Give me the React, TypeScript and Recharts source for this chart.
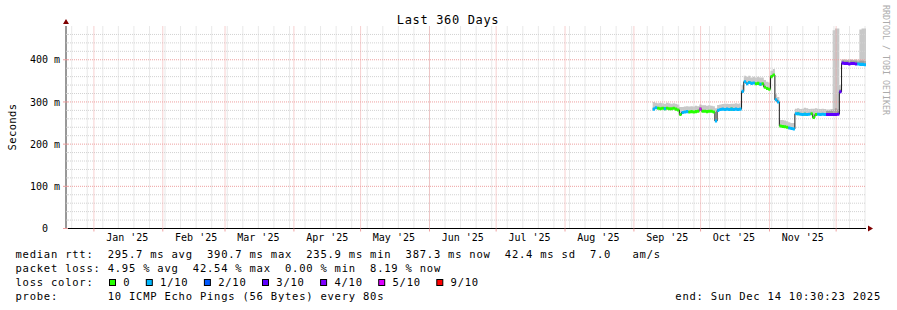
import React from 'react';
import { ComposedChart, Area, Line, XAxis, YAxis, ReferenceLine } from 'recharts';

const MONO = "'DejaVu Sans Mono', monospace";

// ---- time axis ----
const END_TIME = Date.UTC(2025, 11, 14, 10, 30, 23);
const SPAN_DAYS = 360;
const DAY_MS = 86400000;
const START_TIME = END_TIME - SPAN_DAYS * DAY_MS;
const dayOf = (t: number) => (t - START_TIME) / DAY_MS;

const MONTH_NAMES = ['Jan', 'Feb', 'Mar', 'Apr', 'May', 'Jun', 'Jul', 'Aug', 'Sep', 'Oct', 'Nov', 'Dec'];
const MONTH_STARTS = MONTH_NAMES.map((_, m) => dayOf(Date.UTC(2025, m, 1)));
const MONTH_LABELS = MONTH_NAMES.slice(0, 11).map((n) => `${n} '25`);
const MONTH_MIDS = MONTH_NAMES.slice(0, 11).map((_, m) => dayOf(Date.UTC(2025, m, 16)));
const WEEK_LINES: number[] = [];
for (let t = Date.UTC(2024, 11, 22); t < END_TIME; t += 7 * DAY_MS) WEEK_LINES.push(dayOf(t));
const X_TICKS = [...MONTH_STARTS, ...MONTH_MIDS];

// ---- value axis (ms) ----
const Y_MAX = 480;
const Y_TICKS: number[] = [];
for (let v = 0; v < Y_MAX; v += 20) Y_TICKS.push(v);
const Y_MAJOR = [100, 200, 300, 400];
const Y_MINOR = Y_TICKS.filter((v) => v > 0 && v % 100 !== 0);

// ---- series (one value per day, starting at day 264 of the 360-day window) ----
const DAY_START = 264;
const MEDIAN = [
  283, 286, 285, 284, 285, 284, 285, 284, 284, 285,
  283, 281, 270, 275, 276, 277, 276, 277, 276, 277,
  278, 283, 278, 278, 277, 278, 278, 276, 255, 280,
  282, 283, 282, 283, 282, 283, 282, 283, 282, 283,
  325, 348, 343, 346, 344, 345, 343, 344, 342, 343,
  335, 332, 330, 360, 364, 305, 300, 243, 242, 241,
  240, 238, 237, 236, 272, 272, 271, 270, 271, 270,
  271, 272, 263, 270, 271, 270, 271, 270, 270, 270,
  270, 270, 270, 271, 324, 392, 391, 391, 390, 391,
  391, 390, 390, 389, 389, 388,
];
const SMOKE_HI = [
  300, 298, 297, 298, 297, 296, 298, 297, 296, 297,
  296, 294, 288, 288, 289, 290, 289, 290, 289, 291,
  290, 294, 292, 292, 291, 292, 291, 290, 285, 293,
  294, 295, 296, 296, 295, 296, 296, 297, 296, 297,
  340, 362, 360, 362, 358, 360, 358, 360, 358, 358,
  352, 348, 346, 374, 378, 318, 312, 257, 257, 256,
  254, 252, 250, 250, 284, 285, 283, 284, 286, 285,
  283, 284, 284, 285, 284, 283, 284, 283, 282, 282,
  283, 470, 474, 474, 340, 401, 401, 400, 401, 401,
  400, 401, 400, 472, 474, 474,
];
// index into LOSS_LABELS / LOSS_COLORS
const LOSS = [
  1, 1, 0, 0, 0, 1, 0, 0, 0, 0,
  0, 0, 0, 1, 1, 1, 0, 0, 0, 0,
  0, 5, 0, 0, 0, 0, 0, 0, 1, 1,
  1, 1, 1, 1, 1, 0, 1, 1, 1, 1,
  1, 1, 1, 0, 1, 1, 0, 0, 1, 0,
  0, 0, 0, 0, 0, 1, 1, 0, 0, 0,
  0, 1, 1, 1, 1, 0, 1, 1, 0, 1,
  1, 0, 0, 0, 1, 1, 1, 1, 3, 3,
  3, 3, 3, 3, 3, 3, 3, 3, 3, 3,
  3, 3, 1, 1, 1, 1,
];
const DARK_START = 342;
const DARK_HI = [279, 279, 280, 282, 285, 282, 330, 399, 398, 398, 398, 399, 398, 398, 396, 398, 398, 397];

const LOSS_LABELS = ['0', '1/10', '2/10', '3/10', '4/10', '5/10', '9/10'];
const LOSS_COLORS = ['#26ff00', '#00b8ff', '#0059ff', '#5e00ff', '#7e00ff', '#dd00ff', '#ff0000'];

const LEGEND_ROWS = [
  'median rtt:  295.7 ms avg  390.7 ms max  235.9 ms min  387.3 ms now  42.4 ms sd  7.0   am/s',
  'packet loss: 4.95 % avg  42.54 % max  0.00 % min  8.19 % now',
  'loss color:',
  'probe:       10 ICMP Echo Pings (56 Bytes) every 80s',
];
const END_TEXT = 'end: Sun Dec 14 10:30:23 2025';
const TITLE = 'Last 360 Days';
const Y_LABEL = 'Seconds';
const WATERMARK = 'RRDTOOL / TOBI OETIKER';

// ---- style ----
const W = 897;
const H = 310;
const PLOT_MARGIN = { top: 26, right: 31, bottom: 81.5, left: 66 };
const BAND = 3.6;
const MINOR_GRID = '#d2d2d2';
const MAJOR_GRID = '#eea0a0';
const ARROW = '#7f0000';

// ---- chart rows ----
type Row = Record<string, any>;
const buildRow = (i: number, d: number, endRow: boolean): Row => {
  const m = MEDIAN[i];
  const j = DAY_START + i - DARK_START;
  const row: Row = {
    d,
    med: m,
    smoke: [m, SMOKE_HI[i]],
    dark: j >= 0 ? [m, DARK_HI[j]] : null,
  };
  LOSS_COLORS.forEach((_, k) => {
    const on = endRow ? LOSS[i] === k : LOSS[i] === k || (i > 0 && LOSS[i - 1] === k);
    row['b' + k] = on ? [m - BAND, m + BAND] : null;
  });
  return row;
};
const rows: Row[] = MEDIAN.map((_, i) => buildRow(i, DAY_START + i, false));
rows.push(buildRow(MEDIAN.length - 1, SPAN_DAYS, true));

// legend swatch layout
const LEGEND_ITEMS: { box: number; text: number; label: string; color: string }[] = [];
{
  let bx = 109;
  LOSS_LABELS.forEach((label, k) => {
    LEGEND_ITEMS.push({ box: bx, text: bx + 14.3, label, color: LOSS_COLORS[k] });
    bx = bx + 14.3 + label.length * 7.1 + 15.4;
  });
}

const renderXTick = (p: any) => {
  const v = p.payload.value;
  const mi = MONTH_MIDS.indexOf(v);
  if (mi >= 0) {
    return (
      <text x={p.x} y={p.y + 5} dy="0.71em" textAnchor="middle" fontFamily={MONO} fontSize={10} fill="#000">
        {MONTH_LABELS[mi]}
      </text>
    );
  }
  return <line x1={p.x} x2={p.x} y1={p.y} y2={p.y + 3} stroke={MAJOR_GRID} />;
};

const renderYTick = (p: any) => {
  const v = p.payload.value;
  const major = v % 100 === 0;
  return (
    <g>
      <line x1={major ? p.x - 3 : p.x} x2={p.x + 2} y1={p.y} y2={p.y} stroke={major ? MAJOR_GRID : MINOR_GRID} />
      {major && (
        <text
          x={v === 0 ? p.x - 18 : p.x - 6}
          y={p.y}
          dy="0.36em"
          textAnchor="end"
          fontFamily={MONO}
          fontSize={10}
          fill="#000"
        >
          {v === 0 ? '0' : `${v} m`}
        </text>
      )}
    </g>
  );
};

const legendText = { fontFamily: MONO, fontSize: 10.5, letterSpacing: 0.77, fill: '#000', whiteSpace: 'pre' } as any;
const layer = { position: 'absolute', left: 0, top: 0 } as any;

export default function App() {
  return (
    <div style={{ position: 'absolute', left: 0, top: 0, width: W, height: H, background: '#fff', overflow: 'hidden' }}>
      <svg width={0} height={0} style={{ position: 'absolute' }}>
        <defs>
          <marker id="arrX" markerUnits="userSpaceOnUse" markerWidth={10} markerHeight={10} refX={0} refY={4} orient="auto">
            <path d="M2,1 L7,4 L2,7 z" fill={ARROW} />
          </marker>
          <marker id="arrY" markerUnits="userSpaceOnUse" markerWidth={10} markerHeight={10} refX={0} refY={4} orient="auto-start-reverse">
            <path d="M2,1 L7,4 L2,7 z" fill={ARROW} />
          </marker>
        </defs>
      </svg>

      {/* base layer: axes, grid, smoke, median line */}
      <div style={layer}>
        <ComposedChart width={W} height={H} data={rows} margin={{ top: PLOT_MARGIN.top, right: PLOT_MARGIN.right, bottom: 0, left: 0 }}>
          <XAxis
            type="number"
            dataKey="d"
            domain={[0, SPAN_DAYS]}
            ticks={X_TICKS}
            interval={0}
            tick={renderXTick}
            tickLine={false}
            tickSize={0}
            tickMargin={0}
            height={PLOT_MARGIN.bottom}
            allowDataOverflow
            axisLine={{ stroke: '#000', markerEnd: 'url(#arrX)' } as any}
          />
          <YAxis
            type="number"
            domain={[0, Y_MAX]}
            ticks={Y_TICKS}
            interval={0}
            width={PLOT_MARGIN.left}
            tick={renderYTick}
            tickLine={false}
            tickSize={0}
            tickMargin={0}
            allowDataOverflow
            axisLine={{ stroke: '#333', markerStart: 'url(#arrY)' } as any}
          />
          {WEEK_LINES.map((w) => (
            <ReferenceLine key={'w' + w} x={w} stroke={MINOR_GRID} strokeDasharray="1 1" />
          ))}
          {Y_MINOR.map((v) => (
            <ReferenceLine key={'ym' + v} y={v} stroke={MINOR_GRID} strokeDasharray="1 1" />
          ))}
          {MONTH_STARTS.map((m) => (
            <ReferenceLine key={'m' + m} x={m} stroke={MAJOR_GRID} strokeDasharray="1 1" />
          ))}
          {Y_MAJOR.map((v) => (
            <ReferenceLine key={'yM' + v} y={v} stroke={MAJOR_GRID} strokeDasharray="1 1" />
          ))}
          <Area dataKey="smoke" type="stepAfter" fill="#c8c8c8" fillOpacity={1} stroke="none" isAnimationActive={false} dot={false} activeDot={false} />
          <Area dataKey="dark" type="stepAfter" fill="#9e9e9e" fillOpacity={1} stroke="none" isAnimationActive={false} dot={false} activeDot={false} />
          <Line dataKey="med" type="stepAfter" stroke="#1a1a1a" strokeWidth={1} dot={false} activeDot={false} isAnimationActive={false} />
        </ComposedChart>
      </div>

      {/* top layer: loss-coloured median bands, same plot area */}
      <div style={layer}>
        <ComposedChart width={W} height={H} data={rows} margin={PLOT_MARGIN}>
          <XAxis type="number" dataKey="d" domain={[0, SPAN_DAYS]} hide allowDataOverflow />
          <YAxis type="number" domain={[0, Y_MAX]} hide allowDataOverflow />
          {LOSS_COLORS.map((c, k) => (
            <Area
              key={'b' + k}
              dataKey={'b' + k}
              type="stepAfter"
              fill={c}
              fillOpacity={1}
              stroke="none"
              isAnimationActive={false}
              dot={false}
              activeDot={false}
            />
          ))}
        </ComposedChart>
      </div>

      <svg width={W} height={H} style={{ ...layer, pointerEvents: 'none' }}>
        <text x={448} y={24.3} textAnchor="middle" fontFamily={MONO} fontSize={12} letterSpacing={0.65} fill="#000">
          {TITLE}
        </text>
        <text
          x={16}
          y={127}
          transform="rotate(-90 16 127)"
          textAnchor="middle"
          fontFamily={MONO}
          fontSize={10.5}
          letterSpacing={0.4}
          fill="#000"
        >
          {Y_LABEL}
        </text>
        <text x={883} y={5} transform="rotate(90 883 5)" fontFamily={MONO} fontSize={8.3} fill="#ababab">
          {WATERMARK}
        </text>
        {LEGEND_ROWS.map((r, i) => (
          <text key={i} x={15.5} y={257.7 + i * 14} style={legendText}>
            {r}
          </text>
        ))}
        {LEGEND_ITEMS.map((it) => (
          <g key={it.label}>
            <rect x={it.box + 0.5} y={279.5} width={6} height={6} fill={it.color} stroke="#000" />
            <text x={it.text} y={285.7} style={legendText}>
              {it.label}
            </text>
          </g>
        ))}
        <text x={881} y={299.7} textAnchor="end" style={legendText}>
          {END_TEXT}
        </text>
      </svg>
    </div>
  );
}
